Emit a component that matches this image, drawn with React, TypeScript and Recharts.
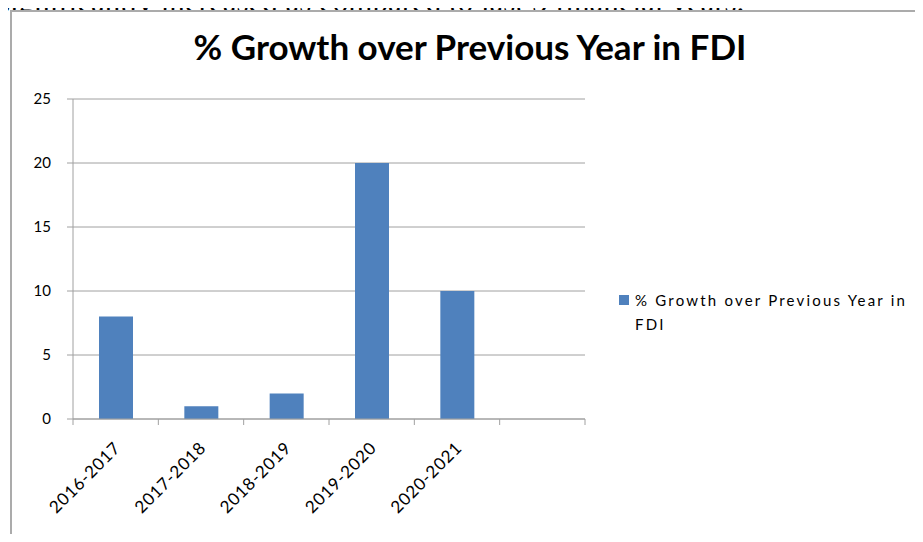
import { BarChart, Bar, XAxis, YAxis, CartesianGrid, Legend } from "recharts"

const years = ["2016-2017", "2017-2018", "2018-2019", "2019-2020", "2020-2021", ""]
const growth = [8, 1, 2, 20, 10, null]
const yTicks = [0, 5, 10, 15, 20, 25]
const seriesName = "% Growth over Previous Year in FDI"

const data = years.map((year, i) => ({ year, growth: growth[i] }))

const axisFont = "Lato, 'Open Sans', sans-serif"

function CategoryTick(props: any) {
    const { x, y, payload, index, visibleTicksCount } = props
    const half = payload?.offset ?? 42.67
    const isLast = index === visibleTicksCount - 1
    return (
        <g>
            <line x1={x - half} y1={y - 8} x2={x - half} y2={y - 2} stroke="#a0a0a0" />
            {isLast && <line x1={x + half} y1={y - 8} x2={x + half} y2={y - 2} stroke="#a0a0a0" />}
            <text
                x={x + 6}
                y={y + 22}
                textAnchor="end"
                transform={`rotate(-45, ${x + 6}, ${y + 22})`}
                fontFamily={axisFont}
                fontSize={17}
                letterSpacing={0.8}
                fill="#000"
            >
                {payload.value}
            </text>
        </g>
    )
}

function LegendBox() {
    return (
        <div style={{ display: "flex", fontFamily: axisFont, fontSize: 15, color: "#000", lineHeight: "24px", textAlign: "left" }}>
            <span style={{ width: 10, height: 10, background: "#4f81bd", marginTop: 7, marginRight: 6, flexShrink: 0 }} />
            <span style={{ width: 290, letterSpacing: 2.2 }}>{seriesName}</span>
        </div>
    )
}

export default function App() {
    return (
        <div style={{ position: "relative", width: 923, height: 542, margin: -8, overflow: "hidden", background: "#fff" }}>
            <div
                style={{
                    position: "absolute",
                    left: -2,
                    top: -16,
                    fontFamily: "'Liberation Serif', 'Times New Roman', serif",
                    fontSize: 31,
                    lineHeight: "36px",
                    whiteSpace: "nowrap",
                    color: "#000",
                }}
            >
                significantly increased as compared to last 5 financial years.
            </div>
            <div style={{ position: "absolute", left: 0, top: 18, fontFamily: "serif", fontSize: 20 }}>.</div>
            <div
                style={{
                    position: "absolute",
                    left: 10,
                    top: 10,
                    width: 940,
                    height: 560,
                    border: "2px solid #ababab",
                    boxSizing: "border-box",
                    background: "#fff",
                }}
            />
            <div
                style={{
                    position: "absolute",
                    left: 0,
                    top: 25,
                    width: 940,
                    textAlign: "center",
                    fontFamily: axisFont,
                    fontWeight: 700,
                    fontSize: 35,
                    color: "#000",
                }}
            >
                {seriesName}
            </div>
            <div style={{ position: "absolute", left: 0, top: 0 }}>
                <BarChart
                    width={923}
                    height={542}
                    data={data}
                    margin={{ top: 99, right: 338, bottom: 0, left: 0 }}
                >
                    <CartesianGrid vertical={false} stroke="#a0a0a0" />
                    <XAxis
                        dataKey="year"
                        height={123}
                        stroke="#a0a0a0"
                        tickLine={false}
                        tick={<CategoryTick />}
                        interval={0}
                    />
                    <YAxis
                        domain={[0, 25]}
                        ticks={yTicks}
                        width={73}
                        stroke="#a0a0a0"
                        tickSize={6}
                        tick={{ fontFamily: axisFont, fontSize: 15, fill: "#000", dx: -14 }}
                    />
                    <Legend
                        layout="horizontal"
                        align="center"
                        verticalAlign="middle"
                        content={<LegendBox />}
                        wrapperStyle={{ position: "absolute", left: 619, top: 288, width: 300 }}
                    />
                    <Bar dataKey="growth" name={seriesName} fill="#4f81bd" barSize={34} isAnimationActive={false} />
                </BarChart>
            </div>
        </div>
    )
}
